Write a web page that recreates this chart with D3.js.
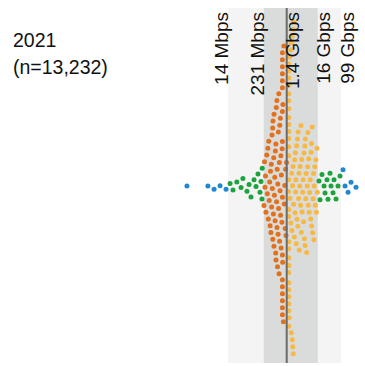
<!DOCTYPE html>
<html><head><meta charset="utf-8">
<script src="https://cdn.jsdelivr.net/npm/d3@7"></script>
<style>body{margin:0;background:#fff}svg{display:block}</style>
</head><body>
<svg id="c" width="365" height="366"></svg>
<script>
// ---- data ----
const titleText = "2021";
const sampleText = "(n=13,232)";
const tickValues = [14, 231, 1400, 16000, 99000];   // Mbps (percentile marks)
const tickLabels = ["14 Mbps", "231 Mbps", "1.4 Gbps", "16 Gbps", "99 Gbps"];
// dot values in Mbps, per colour band
const blueLow = [0.56, 2.9, 4.7, 7.5, 12];
const greenLow = [16.4, 20.7, 28, 39, 45, 62, 73, 85, 108, 126, 147, 172, 186, 201, 205];
const orangeMid = [235, 245, 255, 265, 275,
  292, 305, 318, 330, 342, 355,
  368, 380, 392, 405, 418, 430, 442, 454,
  465, 470, 478, 492, 506, 515, 520, 534, 548, 562, 576,
  590, 598, 604, 618, 632, 648, 656, 664, 680, 696, 712, 728,
  740, 755, 770, 785, 800, 815, 832, 850, 868, 886, 904, 922,
  960, 980,
  1000, 1000, 1000, 1000, 1000, 1000, 1000, 1000,
  1000, 1000, 1000, 1000, 1000, 1000, 1000, 1000,
  1020, 1040,
  1080, 1120, 1160, 1200, 1240, 1280, 1320, 1380];
const yellowMid = [1600,
  1650, 1650, 1650, 1650, 1650, 1650, 1650, 1650, 1650, 1650, 1650, 1650, 1650, 1650,
  1650, 1650, 1650, 1650, 1650, 1650, 1650, 1650, 1650, 1650, 1650, 1650, 1650,
  1700, 1750, 1800,
  1900, 1940, 1980, 2020, 2060, 2100, 2140, 2180, 2220, 2260, 2300, 2340, 2370,
  2400, 2470, 2540, 2610, 2680, 2750, 2820, 2890, 2960,
  3050, 3150, 3250, 3350, 3450, 3550, 3650, 3750,
  3900, 4030, 4160, 4290, 4420, 4550, 4700,
  4900, 5080, 5260, 5440, 5620, 5800, 5950, 6050,
  6250, 6450, 6700, 6950, 7200, 7400, 7600,
  7850, 8150, 8500, 8850, 9200, 9500, 9700,
  9900, 10300, 10700, 11100, 11500, 11800, 12100,
  12600, 13200, 13800, 14400, 15000, 15500];
const greenHigh = [17600, 19100, 22300, 26100, 28300, 33000, 35700, 41800, 45200, 52900, 57300, 67000, 78400, 91600];
const blueHigh = [116000, 136000, 172000, 217000, 321000];

const groups = [
  {name: "blueLow", values: blueLow, color: "#1f88d0"},
  {name: "greenLow", values: greenLow, color: "#1da33e"},
  {name: "orangeMid", values: orangeMid, color: "#e2711d"},
  {name: "yellowMid", values: yellowMid, color: "#f7b944"},
  {name: "greenHigh", values: greenHigh, color: "#1da33e"},
  {name: "blueHigh", values: blueHigh, color: "#1f88d0"}
];

// ---- chart ----
const svg = d3.select("#c");
const x = d3.scaleLog().domain([14, 99000]).range([228, 341]);
const cy = 186, yTop = 8, yBot = 363, r = 2.5, gap = 7;

// bands
svg.append("rect").attr("x", x(tickValues[0])).attr("y", yTop)
  .attr("width", x(tickValues[4]) - x(tickValues[0])).attr("height", yBot - yTop).attr("fill", "#f4f4f4");
svg.append("rect").attr("x", x(tickValues[1])).attr("y", yTop)
  .attr("width", x(tickValues[3]) - x(tickValues[1])).attr("height", yBot - yTop).attr("fill", "#dadcdc");

// symmetric dodge beeswarm: x exact, each dot takes the free spot nearest the
// centre line on the locally less crowded side (upper / lower)
const nodes = [];
groups.forEach(g => g.values.forEach(v => nodes.push({v, color: g.color, x: x(v), dy: 0})));
(function dodge(ns, D) {
  const D2 = D * D, eps = 1e-3, placed = [];
  const order = d3.range(ns.length).sort((a, b) => ns[a].x - ns[b].x);
  order.forEach((i, k) => {
    const n = ns[i];
    const near = placed.filter(p => Math.abs(p.x - n.x) < D);
    let up = 0, down = 0;
    for (const p of near) { if (p.dy < -1e-9) up++; else if (p.dy > 1e-9) down++; }
    const side = up > down ? 1 : down > up ? -1 : (k % 2 ? -1 : 1);
    const free = c => !near.some(q => D2 - eps > (q.x - n.x) ** 2 + (q.dy - c) ** 2);
    const cands = [0];
    for (const p of near) {
      const s = Math.sqrt(D2 - (p.x - n.x) ** 2);
      cands.push(p.dy + s, p.dy - s);
    }
    let best = Infinity;
    for (const c of cands) {
      if (c * side < -1e-9) continue;
      if (Math.abs(c) < Math.abs(best) && free(c)) best = c;
    }
    if (!isFinite(best)) best = 0;
    n.dy = best;
    placed.push(n);
  });
})(nodes, gap);

svg.append("g").selectAll("circle").data(nodes).join("circle")
  .attr("cx", d => d.x).attr("cy", d => cy + d.dy).attr("r", r).attr("fill", d => d.color);

// median line
svg.append("line").attr("x1", x(tickValues[2])).attr("x2", x(tickValues[2]))
  .attr("y1", yTop).attr("y2", yBot).attr("stroke", "#6b6b6b").attr("stroke-width", 2);

// tick labels (rotated)
const font = "'Liberation Sans', Arial, Helvetica, sans-serif";
svg.append("g").selectAll("text").data(tickValues).join("text")
  .attr("transform", (d, i) => `translate(${x(d) + (i < 2 ? 0 : 12.5)},12) rotate(-90)`)
  .attr("text-anchor", "end")
  .attr("font-family", font).attr("font-size", 19).attr("fill", "#111")
  .text((d, i) => tickLabels[i]);

// title
svg.append("text").attr("x", 13).attr("y", 47).attr("font-family", font).attr("font-size", 19.5).attr("fill", "#111").text(titleText);
svg.append("text").attr("x", 13).attr("y", 74).attr("font-family", font).attr("font-size", 19.5).attr("fill", "#111").text(sampleText);
</script>
</body></html>
